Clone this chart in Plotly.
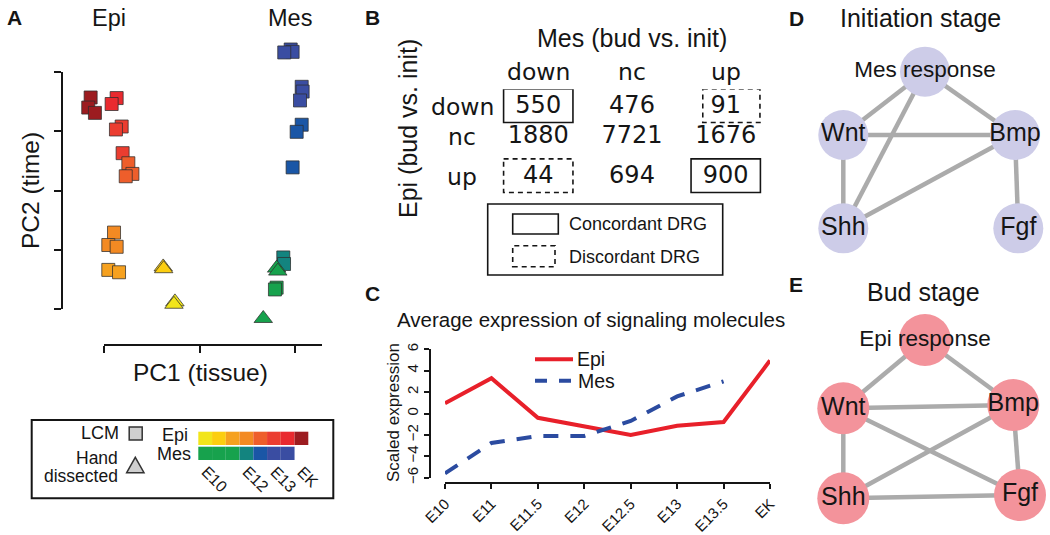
import plotly.graph_objects as go

W, H = 1050, 535
FONT = 'Liberation Sans, Arial, Helvetica, sans-serif'
TFONT = 'DejaVu Sans, Verdana, sans-serif'
INK = '#151515'

# ---------------- data ----------------
TIMEPOINTS = ['E10', 'E11', 'E11.5', 'E12', 'E12.5', 'E13', 'E13.5', 'EK']
EPI_COLORS = ['#F2E51B', '#FCCE10', '#F6A11F', '#F38A23', '#EE5E2B', '#EB3D30', '#E92A2F', '#9C1C20']
MES_COLORS = ['#17A24D', '#17A24D', '#17A24D', '#13847F', '#1A56A6', '#3A4DA2', '#3A4DA2']

# Panel A: PCA scores
epi_lcm_time = ['EK', 'EK', 'EK', 'E13.5', 'E13.5', 'E13', 'E13', 'E13', 'E12.5', 'E12.5', 'E12.5',
                'E12', 'E12', 'E12', 'E11.5', 'E11.5']
epi_lcm_pc1 = [-45.6, -46.6, -43.8, -34.7, -36.8, -32.6, -35.0, -32.2, -29.8, -28.1, -30.9,
               -35.8, -38.2, -34.7, -38.2, -33.7]
epi_lcm_pc2 = [15.7, 14.0, 13.1, 15.6, 14.6, 10.8, 10.3, 6.3, 4.6, 2.8, 2.4,
               -7.1, -9.2, -9.5, -13.4, -13.8]
epi_hand_time = ['E11', 'E11', 'E10', 'E10']
epi_hand_pc1 = [-15.2, -15.0, -10.3, -10.7]
epi_hand_pc2 = [-12.9, -13.2, -18.8, -19.2]

mes_lcm_time = ['E13.5', 'E13.5', 'E13.5', 'E13', 'E13', 'E13', 'E12.5', 'E12.5', 'E12.5',
                'E12', 'E12', 'E11.5', 'E11.5']
mes_lcm_pc1 = [38.2, 39.0, 35.5, 42.8, 43.2, 42.1, 42.8, 40.7, 39.0, 35.1, 35.4, 32.3, 31.6]
mes_lcm_pc2 = [23.8, 23.4, 23.3, 17.5, 16.7, 15.2, 11.1, 9.9, 3.9, -11.3, -12.4, -16.4, -16.7]
mes_hand_time = ['E11', 'E11', 'E10']
mes_hand_pc1 = [32.3, 32.8, 26.7]
mes_hand_pc2 = [-13.1, -13.6, -21.6]

PC1_TICKS = [-40, 0, 40]
PC2_TICKS = [-20, -10, 0, 10, 20]
STRIP_LABELS = ['E10', 'E12', 'E13', 'EK']

# Panel B: contingency table
b_levels = ['down', 'nc', 'up']
b_counts = [[550, 476, 91],
            [1880, 7721, 1676],
            [44, 694, 900]]
b_concordant = [(0, 0), (2, 2)]
b_discordant = [(0, 2), (2, 0)]

# Panel C: average expression
c_timepoints = TIMEPOINTS
c_epi = [0.95, 3.3, -0.4, -1.2, -2.0, -1.15, -0.8, 4.95]
c_mes = [-5.6, -2.75, -2.1, -2.1, -0.7, 1.6, 3.0, None]
C_YTICKS = [-6, -4, -2, 0, 2, 4, 6]

# Panels D/E: networks
d_nodes = ['Mes response', 'Wnt', 'Bmp', 'Shh', 'Fgf']
d_node_x = [125, 43.3, 215, 43.3, 218.3]
d_node_y = [31.7, 95, 95, 188.3, 188.3]
d_edges = [('Mes response', 'Wnt'), ('Mes response', 'Shh'), ('Mes response', 'Bmp'),
           ('Wnt', 'Bmp'), ('Wnt', 'Shh'), ('Shh', 'Bmp'), ('Bmp', 'Fgf')]
e_nodes = ['Epi response', 'Wnt', 'Bmp', 'Shh', 'Fgf']
e_node_x = [125, 43.3, 213.3, 43.3, 220]
e_node_y = [30, 98.3, 95, 188.3, 185]
e_edges = [('Epi response', 'Wnt'), ('Epi response', 'Bmp'), ('Wnt', 'Bmp'), ('Wnt', 'Shh'),
           ('Wnt', 'Fgf'), ('Shh', 'Bmp'), ('Shh', 'Fgf'), ('Bmp', 'Fgf')]


# ---------------- helpers ----------------
def fx(px):
    return px / W


def fy(py):
    return 1 - py / H


def dom_x(a, b):
    return [fx(a), fx(b)]


def dom_y(top, bottom):
    return [fy(bottom), fy(top)]


def lin(p0, p1, v0, v1):
    return lambda p: v0 + (p - p0) * (v1 - v0) / (p1 - p0)


px2pc1 = lin(104, 295, PC1_TICKS[0], PC1_TICKS[-1])
px2pc2 = lin(309, 72, PC2_TICKS[0], PC2_TICKS[-1])

epi_color = dict(zip(TIMEPOINTS, EPI_COLORS))
mes_color = dict(zip(TIMEPOINTS[:len(MES_COLORS)], MES_COLORS))

annotations = []
shapes = []


def ann(text, x, y, size, xanchor='center', yanchor='middle', angle=0, family=FONT,
        xref='paper', yref='paper', color=INK):
    xv = fx(x) if xref == 'paper' else x
    yv = fy(y) if yref == 'paper' else y
    annotations.append(dict(text=text, x=xv, y=yv, xref=xref, yref=yref, showarrow=False,
                            xanchor=xanchor, yanchor=yanchor, textangle=angle, borderpad=0,
                            font=dict(family=family, size=size, color=color)))


fig = go.Figure()

# ---------------- Panel A ----------------
def a_trace(pc1, pc2, times, cmap, symbol, size):
    return go.Scatter(x=pc1, y=pc2, mode='markers', xaxis='x', yaxis='y',
                      marker=dict(symbol=symbol, size=size, color=[cmap[t] for t in times],
                                  line=dict(color='rgba(45,45,45,0.75)', width=1)),
                      cliponaxis=False, hoverinfo='skip', showlegend=False)


# carrier for the offset (R-style) axes of panel A
fig.add_trace(go.Scatter(x=[None], y=[None], xaxis='x3', yaxis='y3', showlegend=False,
                         hoverinfo='skip'))
fig.add_trace(a_trace(epi_lcm_pc1, epi_lcm_pc2, epi_lcm_time, epi_color, 'square', 13))
fig.add_trace(a_trace(mes_lcm_pc1, mes_lcm_pc2, mes_lcm_time, mes_color, 'square', 13))
fig.add_trace(a_trace(epi_hand_pc1, epi_hand_pc2, epi_hand_time, epi_color, 'triangle-up', 16))
fig.add_trace(a_trace(mes_hand_pc1, mes_hand_pc2, mes_hand_time, mes_color, 'triangle-up', 16))

ann('<b>A</b>', 14, 17, 21)
ann('Epi', 109, 18.5, 23.5)
ann('Mes', 290, 18.5, 23.5)
ann('PC2 (time)', 30, 191, 24.5, angle=-90)
ann('PC1 (tissue)', 200, 372, 24.5)

# legend box A
shapes.append(dict(type='rect', xref='paper', yref='paper', x0=fx(31.7), x1=fx(333.3),
                   y0=fy(498.3), y1=fy(420), line=dict(color=INK, width=2)))
ann('LCM', 120, 433, 18, xanchor='right')
ann('Hand', 119, 457.5, 17.5, xanchor='right')
ann('dissected', 119, 475.5, 17.5, xanchor='right')
shapes.append(dict(type='rect', xref='paper', yref='paper', x0=fx(129.2), x1=fx(142.2),
                   y0=fy(440), y1=fy(427), fillcolor='#CFCFCF', line=dict(color='#333', width=1.5)))
shapes.append(dict(type='path', xref='paper', yref='paper',
                   path=f'M {fx(126.7)},{fy(472.7)} L {fx(135.3)},{fy(457.3)} L {fx(144)},{fy(472.7)} Z',
                   fillcolor='#CFCFCF', line=dict(color='#333', width=1.5)))
ann('Epi', 189, 435, 18, xanchor='right')
ann('Mes', 192, 454, 18, xanchor='right')
SEG = 13.75
for k, col in enumerate(EPI_COLORS):
    shapes.append(dict(type='rect', xref='paper', yref='paper', x0=fx(198.3 + k * SEG),
                       x1=fx(198.3 + (k + 1) * SEG), y0=fy(445), y1=fy(431.7),
                       fillcolor=col, line=dict(width=0)))
for k, col in enumerate(MES_COLORS):
    shapes.append(dict(type='rect', xref='paper', yref='paper', x0=fx(198.3 + k * SEG),
                       x1=fx(198.3 + (k + 1) * SEG), y0=fy(460), y1=fy(446.7),
                       fillcolor=col, line=dict(width=0)))
for lab in STRIP_LABELS:
    k = TIMEPOINTS.index(lab)
    ann(lab, 197 + k * SEG, 462, 16, xanchor='left', yanchor='top', angle=45)

# ---------------- Panel B ----------------
B_ROW_POS = [0.0, 0.857, 2.0]
for i, row in enumerate(b_counts):
    fig.add_trace(go.Scatter(x=list(range(len(row))), y=[B_ROW_POS[i]] * len(row),
                             text=[str(v) for v in row], mode='text', xaxis='x6', yaxis='y6',
                             textposition='middle center',
                             textfont=dict(family=TFONT, size=24, color=INK),
                             hoverinfo='skip', showlegend=False, cliponaxis=False))
for j, lev in enumerate(b_levels):
    ann(lev, j, 71.5, 23.5, family=TFONT, xref='x6')
for i, lev in enumerate(b_levels):
    ann(lev, 462, B_ROW_POS[i], 23.5, family=TFONT, yref='y6')


def b_box(i, j, dash):
    hw, dx = (0.305, 0.06) if (i, j) == (0, 2) else (0.37, 0.0)
    yc = B_ROW_POS[i] - 0.03
    shapes.append(dict(type='rect', xref='x6', yref='y6', x0=j - hw + dx, x1=j + hw + dx,
                       y0=yc - 0.48, y1=yc + 0.48,
                       line=dict(color=INK, width=1.6, dash=dash)))


for (i, j) in b_concordant:
    b_box(i, j, 'solid')
for (i, j) in b_discordant:
    b_box(i, j, '5px,4px')

ann('<b>B</b>', 372, 18, 21)
ann('Mes (bud vs. init)', 632, 38.5, 25)
ann('Epi (bud vs. init)', 408, 129, 25, angle=-90)

shapes.append(dict(type='rect', xref='paper', yref='paper', x0=fx(487.7), x1=fx(722.7),
                   y0=fy(275), y1=fy(204), line=dict(color=INK, width=1.6)))
shapes.append(dict(type='rect', xref='paper', yref='paper', x0=fx(512.7), x1=fx(558.3),
                   y0=fy(234), y1=fy(214), line=dict(color=INK, width=1.6)))
shapes.append(dict(type='rect', xref='paper', yref='paper', x0=fx(512.7), x1=fx(555),
                   y0=fy(266.7), y1=fy(245.7), line=dict(color=INK, width=1.6, dash='5px,4px')))
ann('Concordant DRG', 568, 224, 18, xanchor='left')
ann('Discordant DRG', 568, 256.5, 18, xanchor='left')

# ---------------- Panel C ----------------
fig.add_trace(go.Scatter(x=c_timepoints, y=c_epi, mode='lines', xaxis='x2', yaxis='y2',
                         line=dict(color='#E8202A', width=4), cliponaxis=False,
                         hoverinfo='skip', showlegend=False))
fig.add_trace(go.Scatter(x=c_timepoints, y=c_mes, mode='lines', xaxis='x2', yaxis='y2',
                         line=dict(color='#2B4BA0', width=4, dash='15px,12px'), cliponaxis=False,
                         connectgaps=False, hoverinfo='skip', showlegend=False))
ann('<b>C</b>', 372, 293, 21)
ann('Average expression of signaling molecules', 591, 319.5, 20.5)
ann('Scaled expression', 393, 413, 17, angle=-90)
shapes.append(dict(type='line', xref='paper', yref='paper', x0=fx(535), x1=fx(573),
                   y0=fy(359.3), y1=fy(359.3), line=dict(color='#E8202A', width=4)))
shapes.append(dict(type='line', xref='paper', yref='paper', x0=fx(535), x1=fx(573),
                   y0=fy(380.7), y1=fy(380.7), line=dict(color='#2B4BA0', width=4, dash='12px,12px')))
ann('Epi', 576, 359.3, 19.5, xanchor='left')
ann('Mes', 577, 381, 19.5, xanchor='left')

# ---------------- Panels D / E ----------------
def network(nodes, nx, ny, edges, color, size, xa, ya):
    pos = {n: (x, y) for n, x, y in zip(nodes, nx, ny)}
    ex, ey = [], []
    for a, b in edges:
        ex += [pos[a][0], pos[b][0], None]
        ey += [pos[a][1], pos[b][1], None]
    fig.add_trace(go.Scatter(x=ex, y=ey, mode='lines', xaxis=xa, yaxis=ya,
                             line=dict(color='#ABABAB', width=4.5), cliponaxis=False,
                             hoverinfo='skip', showlegend=False))
    sizes = [22.5 if ' ' in n else 25 for n in nodes]
    fig.add_trace(go.Scatter(x=nx, y=ny, mode='markers+text', text=nodes, xaxis=xa, yaxis=ya,
                             textposition='middle center',
                             textfont=dict(family=FONT, size=sizes, color=INK),
                             marker=dict(size=size, color=color, line=dict(width=0)),
                             cliponaxis=False, hoverinfo='skip', showlegend=False))


network(d_nodes, d_node_x, d_node_y, d_edges, '#CDCCE8', 50, 'x4', 'y4')
network(e_nodes, e_node_x, e_node_y, e_edges, '#F3939B', 52, 'x5', 'y5')
ann('<b>D</b>', 796, 19, 21)
ann('Initiation stage', 920, 18.5, 25)
ann('<b>E</b>', 796, 284, 21)
ann('Bud stage', 923, 291.5, 25)

# ---------------- layout ----------------
hidden = dict(visible=False, showgrid=False, zeroline=False, fixedrange=True)
deco = dict(showline=True, linewidth=2, linecolor=INK, ticks='outside', ticklen=7, tickwidth=2,
            tickcolor=INK, showticklabels=False, showgrid=False, zeroline=False, fixedrange=True)
caxis = dict(showline=True, linewidth=2, linecolor=INK, ticks='outside', ticklen=5, tickwidth=2,
             tickcolor=INK, showgrid=False, zeroline=False, fixedrange=True, automargin=False)

fig.update_layout(
    width=W, height=H, margin=dict(l=0, r=0, t=0, b=0, pad=0, autoexpand=False),
    paper_bgcolor='white', plot_bgcolor='rgba(0,0,0,0)', showlegend=False,
    font=dict(family=FONT, color=INK),
    # panel A data axes (hidden)
    xaxis=dict(domain=dom_x(40, 340), range=[px2pc1(40), px2pc1(340)], anchor='y', **hidden),
    yaxis=dict(domain=dom_y(28, 338), range=[px2pc2(338), px2pc2(28)], anchor='x', **hidden),
    # panel A offset axes
    xaxis3=dict(domain=dom_x(104, 322), range=[px2pc1(104), px2pc1(322)], anchor='free',
                position=fy(345), side='bottom', tickvals=PC1_TICKS, **deco),
    yaxis3=dict(domain=dom_y(72, 309), range=[PC2_TICKS[0], PC2_TICKS[-1]], anchor='free',
                position=fx(62), side='left', tickvals=PC2_TICKS, **deco),
    # panel C axes
    xaxis2=dict(domain=dom_x(445, 770), type='category', categoryorder='array',
                categoryarray=c_timepoints, range=[0, len(c_timepoints) - 1], anchor='free',
                position=fy(483.3), side='bottom', tickangle=-45,
                tickfont=dict(family=FONT, size=15, color=INK), **caxis),
    yaxis2=dict(domain=dom_y(349.3, 477.7), range=[C_YTICKS[0], C_YTICKS[-1]], tickvals=C_YTICKS,
                anchor='free', position=fx(430), side='left', tickangle=-90,
                tickfont=dict(family=FONT, size=15, color=INK), **caxis),
    # panel D / E network axes (1 unit = 1 px)
    xaxis4=dict(domain=dom_x(800, 1050), range=[0, 250], anchor='y4', **hidden),
    yaxis4=dict(domain=dom_y(40, 260), range=[220, 0], anchor='x4', **hidden),
    xaxis5=dict(domain=dom_x(800, 1050), range=[0, 250], anchor='y5', **hidden),
    yaxis5=dict(domain=dom_y(310, 530), range=[220, 0], anchor='x5', **hidden),
    # panel B table axes
    xaxis6=dict(domain=dom_x(491.4, 772.6), range=[-0.5, 2.5], anchor='y6', **hidden),
    yaxis6=dict(domain=dom_y(89.2, 194.2), range=[2.5, -0.5], anchor='x6', **hidden),
    annotations=annotations, shapes=shapes,
)

fig.write_html('out.html', config={'displayModeBar': False},
               post_script="document.body.style.margin='0px';"
                           "document.body.style.overflow='hidden';")
